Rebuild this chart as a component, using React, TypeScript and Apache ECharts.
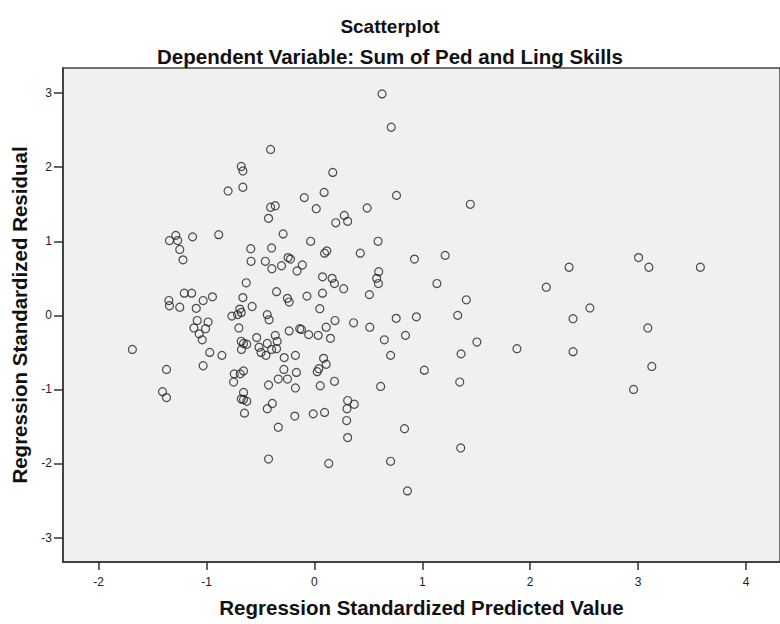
import React, { useEffect, useRef } from "react";
import * as echarts from "echarts";

const titleText = "Scatterplot";
const subtitleText = "Dependent Variable: Sum of Ped and Ling Skills";
const xAxisTitle = "Regression Standardized Predicted Value";
const yAxisTitle = "Regression Standardized Residual";

const xTicks = [-2, -1, 0, 1, 2, 3, 4];
const yTicks = [-3, -2, -1, 0, 1, 2, 3];

const predicted = [
  -1.687, -1.408, -1.371, -1.371, -1.349, -1.343, -1.343, -1.285, -1.267, -1.248,
  -1.218, -1.248, -1.206, -1.138, -1.129, -1.095, -1.086, -1.117, -1.068, -1.04,
  -1.031, -1.009, -0.985, -1.031, -0.97, -0.945, -0.887, -0.857, -0.8, -0.765,
  -0.743, -0.749, -0.712, -0.7, -0.691, -0.688, -0.678, -0.663, -0.663, -0.678,
  -0.663, -0.678, -0.676, -0.657, -0.627, -0.657, -0.657, -0.678, -0.657, -0.627,
  -0.648, -0.632, -0.59, -0.587, -0.577, -0.535, -0.513, -0.495, -0.455, -0.449,
  -0.437, -0.42, -0.437, -0.425, -0.437, -0.425, -0.406, -0.406, -0.363, -0.425,
  -0.397, -0.394, -0.397, -0.39, -0.363, -0.351, -0.351, -0.345, -0.335, -0.335,
  -0.305, -0.29, -0.283, -0.28, -0.25, -0.234, -0.244, -0.222, -0.25, -0.234,
  -0.182, -0.176, -0.167, -0.176, -0.161, -0.136, -0.12, -0.112, -0.094, -0.069,
  -0.053, -0.035, -0.011, 0.017, 0.035, 0.05, 0.041, 0.026, 0.054, 0.075,
  0.075, 0.085, 0.09, 0.094, 0.115, 0.109, 0.109, 0.094, 0.133, 0.149,
  0.164, 0.186, 0.17, 0.186, 0.191, 0.198, 0.271, 0.277, 0.308, 0.308,
  0.369, 0.302, 0.299, 0.308, 0.363, 0.425, 0.489, 0.51, 0.513, 0.59,
  0.596, 0.577, 0.593, 0.614, 0.627, 0.648, 0.706, 0.706, 0.712, 0.758,
  0.761, 0.835, 0.844, 0.862, 0.927, 0.945, 1.019, 1.135, 1.212, 1.328,
  1.347, 1.356, 1.359, 1.408, 1.445, 1.506, 1.877, 2.149, 2.36, 2.397,
  2.397, 2.553, 2.958, 3.004, 3.09, 3.1, 3.127, 3.577,
];

const residual = [
  -0.46, -1.03, -1.11, -0.73, 0.2, 0.13, 1.01, 1.08, 1.01, 0.89,
  0.75, 0.11, 0.3, 0.3, 1.06, 0.095, -0.07, -0.17, -0.25, -0.33,
  0.2, -0.18, -0.09, -0.68, -0.5, 0.25, 1.09, -0.54, 1.68, -0.01,
  -0.79, -0.9, 0.01, -0.17, 0.085, -0.79, 2.01, 1.95, 1.73, 0.04,
  0.24, -0.35, -0.46, -0.38, -0.39, -0.75, -1.04, -1.13, -1.135, -1.16,
  -1.32, 0.44, 0.9, 0.73, 0.12, -0.3, -0.43, -0.5, 0.73, -0.54,
  0.01, -0.06, -0.38, -0.94, -1.26, -1.94, 2.24, 1.46, 1.48, 1.31,
  0.91, 0.63, -0.46, -1.19, -0.27, 0.32, -0.45, -0.35, -0.86, -1.51,
  0.67, 1.1, -0.73, -0.57, 0.23, 0.18, 0.78, 0.76, -0.86, -0.21,
  -1.36, -0.54, -0.77, -0.98, 0.6, -0.18, -0.19, 0.68, 1.59, 0.26,
  -0.26, 1.0, -1.33, 1.44, -0.27, 0.09, -0.72, -0.76, -0.95, 0.52,
  0.3, -0.58, 1.66, 0.84, 0.87, -0.16, -0.66, -1.31, -2.0, -0.31,
  0.5, 0.43, 1.93, -0.89, -0.07, 1.25, 0.36, 1.35, 1.27, -1.15,
  -1.2, -1.26, -1.42, -1.65, -0.1, 0.84, 1.45, 0.28, -0.16, 1.0,
  0.59, 0.5, 0.43, -0.96, 2.99, -0.33, -0.54, -1.97, 2.54, -0.04,
  1.62, -1.53, -0.27, -2.37, 0.76, -0.02, -0.74, 0.43, 0.81, 0.0,
  -0.9, -1.79, -0.52, 0.21, 1.5, -0.36, -0.45, 0.38, 0.65, -0.045,
  -0.49, 0.1, -1.0, 0.78, -0.17, 0.65, -0.69, 0.65,
];

const FONT = "'Liberation Sans', Arial, sans-serif";
const TICK_FONT = "'Liberation Sans', Arial, sans-serif";

export default function App() {
  const ref = useRef<HTMLDivElement>(null);

  useEffect(() => {
    if (!ref.current) return;
    const chart = echarts.init(ref.current, null, { renderer: "svg" });
    const points = predicted.map((x, i) => [x, residual[i]]);

    chart.setOption({
      animation: false,
      backgroundColor: "#ffffff",
      textStyle: { fontFamily: FONT },
      title: [
        {
          text: titleText,
          left: "center",
          top: 12,
          textStyle: { fontSize: 19, fontWeight: "bold", color: "#111", fontFamily: FONT },
        },
        {
          text: subtitleText,
          left: "center",
          top: 41,
          textStyle: { fontSize: 20.5, fontWeight: "bold", color: "#111", fontFamily: FONT },
        },
      ],
      grid: {
        left: 63,
        top: 68,
        right: -6,
        bottom: 62,
        show: true,
        backgroundColor: "#f0f0f0",
        borderColor: "#444",
        borderWidth: 1.5,
        containLabel: false,
      },
      xAxis: {
        type: "value",
        min: -2.33,
        max: 4.315,
        name: xAxisTitle,
        nameLocation: "middle",
        nameGap: 35,
        nameTextStyle: { fontSize: 20.5, fontWeight: "bold", color: "#111", fontFamily: FONT },
        axisLine: { show: true, onZero: false, lineStyle: { color: "#333", width: 1.5 } },
        axisTick: {
          show: true,
          length: 8,
          customValues: xTicks,
          lineStyle: { color: "#333", width: 1.5 },
        },
        axisLabel: {
          customValues: xTicks,
          fontSize: 12,
          color: "#222",
          margin: 14,
          fontFamily: TICK_FONT,
        },
        splitLine: { show: false },
      },
      yAxis: {
        type: "value",
        min: -3.33,
        max: 3.34,
        name: yAxisTitle,
        nameLocation: "middle",
        nameGap: 33,
        nameTextStyle: { fontSize: 20.5, fontWeight: "bold", color: "#111", fontFamily: FONT },
        axisLine: { show: true, onZero: false, lineStyle: { color: "#333", width: 1.5 } },
        axisTick: {
          show: true,
          length: 9,
          customValues: yTicks,
          lineStyle: { color: "#333", width: 1.5 },
        },
        axisLabel: {
          customValues: yTicks,
          fontSize: 12,
          color: "#222",
          margin: 11,
          fontFamily: TICK_FONT,
        },
        splitLine: { show: false },
      },
      series: [
        {
          type: "scatter",
          data: points,
          symbol: "circle",
          symbolSize: 8,
          itemStyle: { color: "rgba(0,0,0,0)", borderColor: "#222", borderWidth: 1.2 },
          emphasis: { disabled: true },
          silent: true,
        },
      ],
    });

    return () => chart.dispose();
  }, []);

  return (
    <div
      ref={ref}
      style={{ position: "fixed", left: 0, top: 0, width: 780, height: 624 }}
    />
  );
}
